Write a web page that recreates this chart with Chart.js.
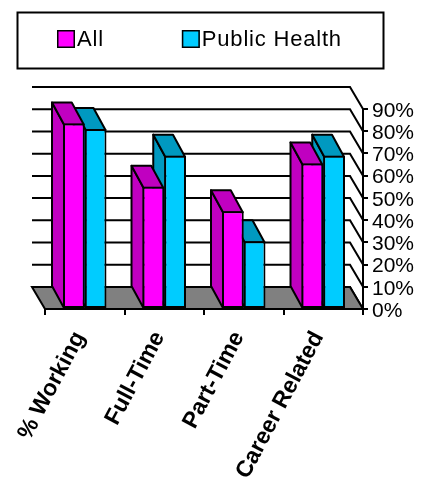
<!DOCTYPE html>
<html>
<head>
<meta charset="utf-8">
<script src="https://cdn.jsdelivr.net/npm/chart.js@4/dist/chart.umd.min.js"></script>
<style>
  html, body { margin: 0; padding: 0; background: #fff; }
  #wrap { position: relative; width: 423px; height: 480px; }
</style>
</head>
<body>
<div id="wrap"><canvas id="c"></canvas></div>
<script>
// ---- data ----
const categories = ['% Working', 'Full-Time', 'Part-Time', 'Career Related'];
const seriesNames = ['All', 'Public Health'];
const allValues = [83.5, 55, 44, 65.5];
const publicHealthValues = [81, 69, 30.5, 69];
const yMin = 0, yMax = 90, yStep = 10;

// ---- styles ----
const frontColors = ['#FF00FF', '#00CCFF'];
const shadeColors = ['#C000C0', '#0099C0'];
const WALL_DX = 13, BAR_DX = 12, DEPTH_DY = 22;
const FONT = '"Liberation Sans", Arial, Helvetica, sans-serif';

Chart.defaults.font.family = FONT;
Chart.defaults.color = '#000';

function poly(ctx, pts, fill) {
  ctx.beginPath();
  ctx.moveTo(pts[0][0], pts[0][1]);
  for (let i = 1; i < pts.length; i++) ctx.lineTo(pts[i][0], pts[i][1]);
  ctx.closePath();
  ctx.fillStyle = fill;
  ctx.fill();
  ctx.stroke();
}

const box3d = {
  id: 'box3d',
  beforeDatasetsDraw(chart) {
    const { ctx, chartArea: a, scales: { y } } = chart;
    ctx.save();
    ctx.lineWidth = 2;
    ctx.strokeStyle = '#000';
    ctx.lineJoin = 'miter';
    // back wall gridlines + right side wall diagonals
    y.ticks.forEach(t => {
      const py = y.getPixelForValue(t.value);
      ctx.beginPath();
      ctx.moveTo(a.left - WALL_DX, py - DEPTH_DY);
      ctx.lineTo(a.right - WALL_DX, py - DEPTH_DY);
      ctx.lineTo(a.right, py);
      ctx.stroke();
    });
    // floor
    const by = y.getPixelForValue(yMin);
    poly(ctx, [[a.left, by], [a.left - WALL_DX, by - DEPTH_DY], [a.right - WALL_DX, by - DEPTH_DY], [a.right, by]], '#808080');
    ctx.restore();
  },
  beforeDatasetDraw(chart, args) {
    const ctx = chart.ctx;
    const shade = shadeColors[args.index];
    ctx.save();
    ctx.lineWidth = 2;
    ctx.strokeStyle = '#000';
    ctx.lineJoin = 'round';
    args.meta.data.forEach(bar => {
      const { x, y, base, width } = bar.getProps(['x', 'y', 'base', 'width'], true);
      const l = x - width / 2 + 1, r = x + width / 2 - 1, t = y + 1, b = base;
      // left side face
      poly(ctx, [[l, b], [l, t], [l - BAR_DX, t - DEPTH_DY], [l - BAR_DX, b - DEPTH_DY]], shade);
      // top face
      poly(ctx, [[l, t], [r, t], [r - BAR_DX, t - DEPTH_DY], [l - BAR_DX, t - DEPTH_DY]], shade);
    });
    ctx.restore();
  }
};

const legendBox = {
  id: 'legendBox',
  afterDraw(chart) {
    const ctx = chart.ctx;
    ctx.save();
    ctx.lineWidth = 2;
    ctx.strokeStyle = '#000';
    ctx.strokeRect(17.5, 12.5, 366, 56);
    ctx.font = '22px ' + FONT;
    if ('letterSpacing' in ctx) ctx.letterSpacing = '0.8px';
    ctx.textBaseline = 'alphabetic';
    ctx.textAlign = 'left';
    let x = 57;
    chart.data.datasets.forEach(ds => {
      ctx.fillStyle = ds.backgroundColor;
      ctx.fillRect(x, 30, 18, 18);
      ctx.lineWidth = 1.5;
      ctx.strokeRect(x + 0.75, 30.75, 16.5, 16.5);
      ctx.fillStyle = '#000';
      ctx.fillText(ds.label, x + 20, 45.5);
      x += 20 + ctx.measureText(ds.label).width + 78;
    });
    ctx.restore();
  }
};

new Chart(document.getElementById('c'), {
  type: 'bar',
  data: {
    labels: categories,
    datasets: [
      { label: seriesNames[0], data: allValues, backgroundColor: frontColors[0] },
      { label: seriesNames[1], data: publicHealthValues, backgroundColor: frontColors[1] }
    ]
  },
  options: {
    responsive: true,
    maintainAspectRatio: false,
    animation: false,
    events: [],
    layout: { padding: { top: 109, left: 45, right: 0, bottom: 0 } },
    datasets: {
      bar: {
        borderColor: '#000',
        borderWidth: 2,
        borderSkipped: false,
        categoryPercentage: 0.547,
        barPercentage: 1,
        clip: false
      }
    },
    plugins: {
      legend: { display: false },
      tooltip: { enabled: false }
    },
    scales: {
      x: {
        grid: { display: true, drawOnChartArea: false, drawTicks: true, tickLength: 6, color: '#000', lineWidth: 2 },
        border: { display: true, color: '#000', width: 2 },
        ticks: {
          autoSkip: false,
          minRotation: 62,
          maxRotation: 62,
          padding: 12,
          labelOffset: -5,
          color: '#000',
          font: { size: 23, weight: 'bold', family: FONT }
        },
        afterFit(s) { s.height = 171; }
      },
      y: {
        position: 'right',
        min: yMin,
        max: yMax,
        grid: { display: true, drawOnChartArea: false, drawTicks: true, tickLength: 5, color: '#000', lineWidth: 2 },
        border: { display: true, color: '#000', width: 2 },
        ticks: {
          autoSkip: false,
          stepSize: yStep,
          padding: 4,
          labelOffset: 2,
          color: '#000',
          font: { size: 21, family: FONT, lineHeight: 1 },
          callback: v => v + '%'
        },
        afterFit(s) { s.width = 60; }
      }
    }
  },
  plugins: [box3d, legendBox]
});
</script>
</body>
</html>
